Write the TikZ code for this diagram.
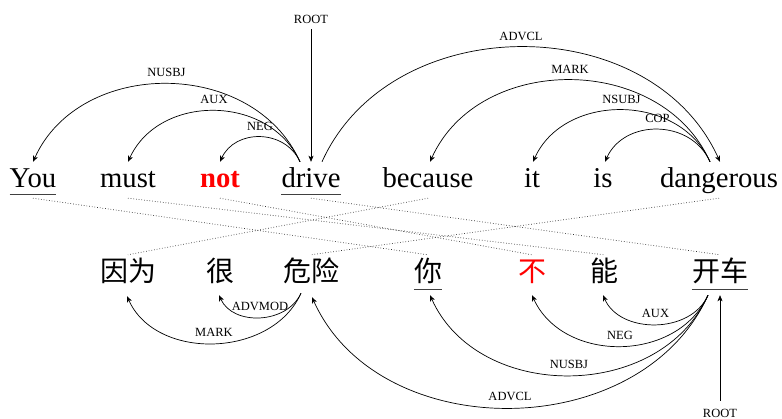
\documentclass[tikz,border=0pt]{standalone}
\usepackage{fontspec}
\setmainfont{Liberation Serif}
\newfontfamily\cjk{Noto Sans CJK SC}
\usetikzlibrary{arrows.meta,calc}
\begin{document}
\begin{tikzpicture}[x=1pt,y=1pt,
  en/.style={anchor=base, inner sep=0pt, text height=26pt, text depth=6pt, font=\fontsize{28.7}{30}\selectfont},
  zh/.style={anchor=base, inner sep=0pt, text height=27pt, text depth=7pt, font=\cjk\fontsize{28}{30}\selectfont},
  lab/.style={font=\fontsize{12.5}{13}\selectfont, inner sep=1pt},
  dep/.style={-{Stealth[length=6pt,width=5pt,inset=1.5pt]}, line width=0.7pt},
  alignline/.style={dotted, line width=0.7pt, black!80},
  uline/.style={line width=0.8pt, black!75}]
\useasboundingbox (0,0) rectangle (782,419);
% English words
\node[en] (You) at (33,231) {You};
\node[en] (must) at (128,231) {must};
\node[en, text=red, font=\fontsize{28.7}{30}\selectfont\bfseries] (not) at (220,231) {not};
\node[en] (drive) at (311,231) {drive};
\node[en] (because) at (428,231) {because};
\node[en] (it) at (532,231) {it};
\node[en] (is) at (603,231) {is};
\node[en] (dangerous) at (719,231) {dangerous};
% Chinese words
\node[zh] (yinwei) at (128,137) {因为};
\node[zh] (hen) at (220,137) {很};
\node[zh] (weixian) at (311,137) {危险};
\node[zh] (ni) at (428,137) {你};
\node[zh, text=red] (bu) at (532,137) {不};
\node[zh] (neng) at (604,137) {能};
\node[zh] (kaiche) at (720,137) {开车};
% underlines
\draw[uline] (You.south west) -- (You.south east);
\draw[uline] (drive.south west) -- (drive.south east);
\draw[uline] (ni.south west) -- (ni.south east);
\draw[uline] (kaiche.south west) -- (kaiche.south east);
% alignment lines
\draw[alignline] ([yshift=-4pt]You.south) -- (ni.north);
\draw[alignline] ([yshift=-4pt]must.south) -- (neng.north);
\draw[alignline] ([yshift=-4pt]not.south) -- (bu.north);
\draw[alignline] ([yshift=-4pt]drive.south) -- (kaiche.north);
\draw[alignline] ([yshift=-4pt]because.south) -- (yinwei.north);
\draw[alignline] ([yshift=-4pt]dangerous.south) -- (weixian.north);
% top roots and arcs
\node[lab] (rootT) at (311,400) {ROOT};
\draw[dep, shorten <=5pt] (rootT.south) -- (drive.north);
\draw[dep] ([xshift=-11pt]drive.north) .. controls +(-47,104) and +(47,104) .. (You.north) node[lab,pos=.5,yshift=11pt] {NUSBJ};
\draw[dep] ([xshift=-11pt]drive.north) .. controls +(-31,68) and +(31,68) .. (must.north) node[lab,pos=.5,yshift=11pt] {AUX};
\draw[dep] ([xshift=-11pt]drive.north) .. controls +(-15,33) and +(15,33) .. (not.north) node[lab,pos=.5,yshift=11pt] {NEG};
\draw[dep] ([xshift=11pt]drive.north) .. controls +(69,153) and +(-69,153) .. ([xshift=1pt]dangerous.north) node[lab,pos=.5,yshift=11pt] {ADVCL};
\draw[dep] ([xshift=-9pt]dangerous.north) .. controls +(-49,109) and +(49,109) .. ([xshift=2pt]because.north) node[lab,pos=.5,yshift=11pt] {MARK};
\draw[dep] ([xshift=-9pt]dangerous.north) .. controls +(-31,69) and +(31,69) .. ([xshift=1pt]it.north) node[lab,pos=.5,yshift=11pt] {NSUBJ};
\draw[dep] ([xshift=-9pt]dangerous.north) .. controls +(-19,43) and +(19,43) .. ([xshift=2pt]is.north) node[lab,pos=.5,yshift=11pt] {COP};
% bottom roots and arcs
\node[lab] (rootB) at (720,6) {ROOT};
\draw[dep, shorten <=7pt] (rootB.north) -- ([yshift=-6pt]kaiche.south);
\draw[dep] ([shift={(-10pt,-4pt)}]weixian.south) .. controls +(-14,-31) and +(14,-31) .. ([shift={(-1pt,-6pt)}]hen.south) node[lab,pos=.5,yshift=11pt] {ADVMOD};
\draw[dep] ([shift={(-10pt,-4pt)}]weixian.south) .. controls +(-29,-65) and +(29,-65) .. ([shift={(-1pt,-7pt)}]yinwei.south) node[lab,pos=.5,yshift=11pt] {MARK};
\draw[dep] ([shift={(-12pt,-6pt)}]kaiche.south) .. controls +(-67,-149) and +(67,-149) .. ([shift={(1pt,-8pt)}]weixian.south) node[lab,pos=.5,yshift=11pt] {ADVCL};
\draw[dep] ([shift={(-12pt,-6pt)}]kaiche.south) .. controls +(-48,-107) and +(48,-107) .. ([shift={(2pt,-6pt)}]ni.south) node[lab,pos=.5,yshift=11pt] {NUSBJ};
\draw[dep] ([shift={(-12pt,-6pt)}]kaiche.south) .. controls +(-31,-68) and +(31,-68) .. ([yshift=-6pt]bu.south) node[lab,pos=.5,yshift=11pt] {NEG};
\draw[dep] ([shift={(-12pt,-6pt)}]kaiche.south) .. controls +(-17,-39) and +(17,-39) .. ([shift={(-1pt,-6pt)}]neng.south) node[lab,pos=.5,yshift=11pt] {AUX};
\end{tikzpicture}
\end{document}
